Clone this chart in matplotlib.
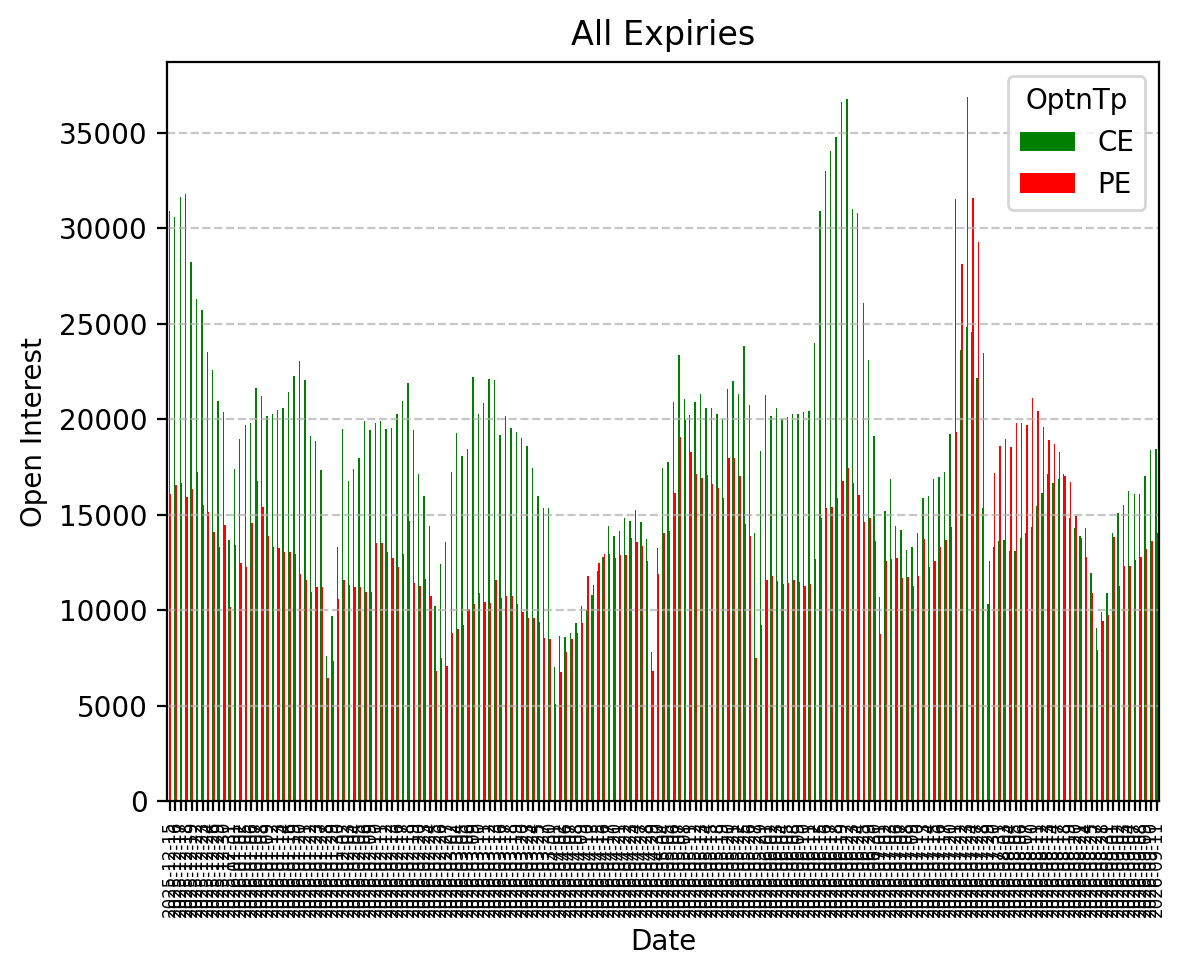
import matplotlib
matplotlib.use("Agg")
import matplotlib.pyplot as plt
import pandas as pd

dates = [
 "2025-12-15","2025-12-16","2025-12-17","2025-12-18","2025-12-19","2025-12-22","2025-12-23","2025-12-24","2025-12-26","2025-12-29","2025-12-30","2025-12-31",
 "2026-01-01","2026-01-02","2026-01-05","2026-01-06","2026-01-07","2026-01-08","2026-01-09","2026-01-12","2026-01-13","2026-01-14","2026-01-16","2026-01-19","2026-01-20","2026-01-21","2026-01-22","2026-01-23","2026-01-27","2026-01-28","2026-01-29","2026-01-30",
 "2026-02-02","2026-02-03","2026-02-04","2026-02-05","2026-02-06","2026-02-09","2026-02-10","2026-02-11","2026-02-12","2026-02-13","2026-02-16","2026-02-17","2026-02-18","2026-02-19","2026-02-20","2026-02-23","2026-02-24","2026-02-25","2026-02-26","2026-02-27",
 "2026-03-02","2026-03-04","2026-03-05","2026-03-06","2026-03-09","2026-03-10","2026-03-11","2026-03-12","2026-03-13","2026-03-16","2026-03-17","2026-03-18","2026-03-19","2026-03-20","2026-03-23","2026-03-24","2026-03-25","2026-03-27","2026-03-30",
 "2026-04-01","2026-04-02","2026-04-06","2026-04-07","2026-04-08","2026-04-09","2026-04-10","2026-04-13","2026-04-15","2026-04-16","2026-04-17","2026-04-20","2026-04-21","2026-04-22","2026-04-23","2026-04-24","2026-04-27","2026-04-28","2026-04-29","2026-04-30",
 "2026-05-04","2026-05-05","2026-05-06","2026-05-07","2026-05-08","2026-05-11","2026-05-12","2026-05-13","2026-05-14","2026-05-15","2026-05-18","2026-05-19","2026-05-20","2026-05-21","2026-05-22","2026-05-25","2026-05-26","2026-05-27","2026-05-29",
 "2026-06-01","2026-06-02","2026-06-03","2026-06-04","2026-06-05","2026-06-08","2026-06-09","2026-06-10","2026-06-11","2026-06-12","2026-06-15","2026-06-16","2026-06-17","2026-06-18","2026-06-19","2026-06-22","2026-06-23","2026-06-24","2026-06-25","2026-06-29","2026-06-30",
 "2026-07-01","2026-07-02","2026-07-03","2026-07-06","2026-07-07","2026-07-08","2026-07-09","2026-07-10","2026-07-13","2026-07-14","2026-07-15","2026-07-16","2026-07-17","2026-07-20","2026-07-21","2026-07-22","2026-07-23","2026-07-24","2026-07-27","2026-07-28","2026-07-29","2026-07-30","2026-07-31",
 "2026-08-03","2026-08-04","2026-08-05","2026-08-06","2026-08-07","2026-08-10","2026-08-11","2026-08-12","2026-08-13","2026-08-14","2026-08-17","2026-08-18","2026-08-19","2026-08-20","2026-08-21","2026-08-24","2026-08-25","2026-08-27","2026-08-28","2026-08-31",
 "2026-09-01","2026-09-02","2026-09-03","2026-09-04","2026-09-07","2026-09-08","2026-09-09","2026-09-10","2026-09-11",
]

ce_values = [
 30940,30620,31670,31780,28270,26330,25750,23550,22610,20940,20370,13700,17420,19000,19720,19790,
 21670,21240,20190,20260,20510,20620,21410,22290,23080,22080,19150,18850,17370,7590,9680,13330,
 19510,16800,17420,17990,19900,19430,19830,19940,19510,19570,20300,20940,21930,19470,17120,
 15980,14400,10210,12410,13560,17240,19280,18070,18440,22220,20280,20850,22110,22060,19180,20170,
 19540,19330,19020,18600,17450,15980,15350,15350,7010,8640,8580,8790,9320,10210,10000,10790,
 12040,12780,14400,13880,14140,14820,14670,15240,14610,13720,7800,13250,17450,17760,
 20890,23380,21070,20230,20920,21350,20600,20600,20300,20000,21600,22030,21350,23850,20770,14050,
 18350,21280,20190,20600,20000,20130,20300,20300,20400,20450,24020,30940,32990,34080,34770,36610,
 36800,31040,30830,26120,23120,19140,10680,15200,16870,14410,14200,13150,13320,14050,
 15890,15990,16870,16980,17260,19250,31520,23640,24860,24600,22180,15350,10320,13320,13640,13680,
 13100,13100,13790,14050,14370,15460,16140,17150,16680,16870,17150,14840,14300,13900,14300,11950,
 9060,9910,10900,14050,15090,15520,16250,16100,16100,17040,18390,18460,
]

pe_values = [
 16110,16580,16690,15960,16370,17270,15540,15130,14080,13330,14490,10150,13440,12460,12290,14600,
 16750,15390,13910,13330,13290,13040,13080,12930,11920,11600,10980,11240,11200,6480,7370,10620,
 11600,11350,11240,11200,10980,10980,13550,13550,13040,12720,12290,12930,14700,11450,11300,
 11620,10730,6850,7530,7060,8790,9000,9210,10050,10310,10890,10420,10370,11570,10630,10730,
 10730,10310,9890,9580,9580,9370,8530,8480,5120,6750,7800,8480,8790,9320,11780,11310,
 12460,12940,12940,12730,12880,12880,13770,13560,13350,12570,6800,11890,14040,14140,
 16160,19080,19950,18310,17150,16940,17090,16610,16400,15890,17980,17980,17040,14520,13900,7490,
 9230,11580,11800,11540,11370,11430,11580,11480,11260,11370,12670,14860,15350,15420,15890,16790,
 17450,16680,16040,14620,14840,13640,8760,12590,12670,12740,11690,11730,11260,11800,
 13720,12270,12590,13320,13680,14370,19350,28150,36870,31620,29310,23490,12590,17190,18610,18970,
 18560,19830,19830,19720,21130,20450,19610,18930,18710,18310,17040,16720,14940,13790,12780,10900,
 7900,9440,9740,13830,11260,12310,12310,12630,12780,13210,13640,14050,
]

df = pd.DataFrame({"CE": ce_values, "PE": pe_values}, index=pd.Index(dates, name="Date"))
df.columns.name = "OptnTp"

fig = plt.figure(figsize=(5.925, 4.88), dpi=200)
ax = fig.add_axes([167.305 / 1185, 1 - 801.3 / 976, 992 / 1185, 739.2 / 976])
df.plot(kind="bar", ax=ax, color=["green", "red"])
ax.set_title("All Expiries")
ax.set_xlabel("Date")
ax.set_ylabel("Open Interest")
ax.tick_params(axis="x", labelsize=6, labelrotation=90)
ax.grid(axis="y", linestyle="--", alpha=0.7)
ax.legend(title="OptnTp", loc="upper right")
fig.savefig("out.png", dpi=200)
